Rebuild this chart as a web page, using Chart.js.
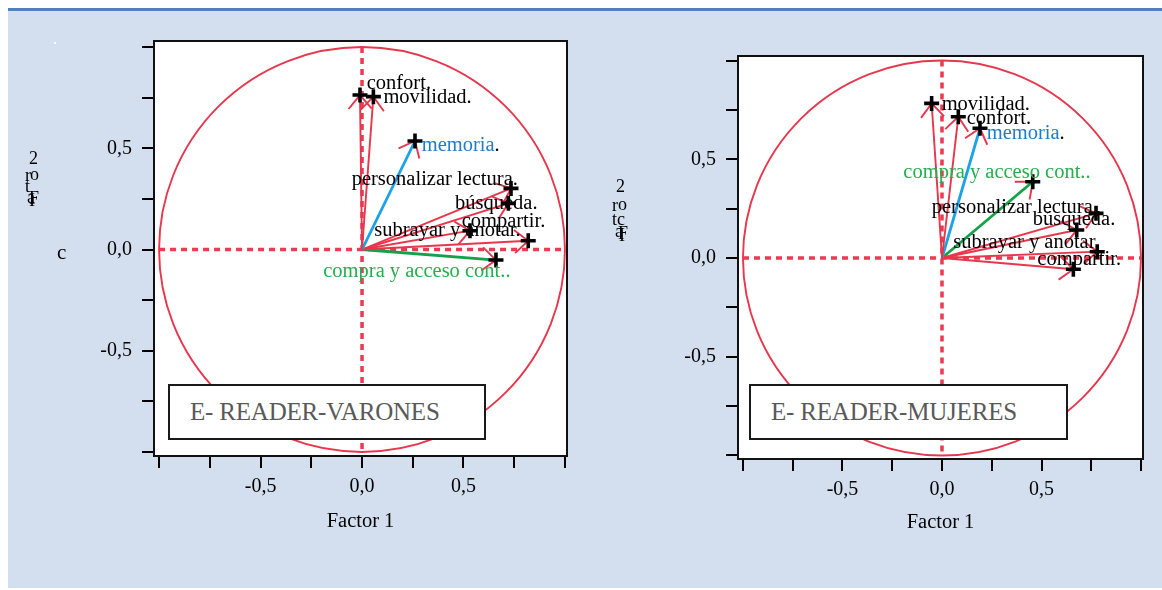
<!DOCTYPE html>
<html><head><meta charset="utf-8">
<script src="https://cdn.jsdelivr.net/npm/chart.js@4.4.0/dist/chart.umd.min.js"></script>
<style>
html,body{margin:0;padding:0;background:#fff;}
#page{position:relative;width:1162px;height:590px;overflow:hidden;background:#fff;font-family:"Liberation Serif",serif;}
#topline{position:absolute;left:8px;top:8px;width:1154px;height:3px;background:#4F81BD;}
#panel{position:absolute;left:8px;top:11px;width:1154px;height:577px;background:#D3DFEE;}
canvas{position:absolute;top:0;}
.frag{position:absolute;font-family:"Liberation Serif",serif;font-size:18px;line-height:18px;color:#000;white-space:pre;}
.box{position:absolute;top:384px;height:56px;background:#fff;border:2px solid #1a1a1a;box-sizing:border-box;color:#595959;font-family:"Liberation Serif",serif;font-size:25px;letter-spacing:-0.2px;line-height:52px;white-space:pre;}
#dot{position:absolute;left:54px;top:42px;width:2px;height:2px;background:#fff;}
</style></head>
<body>
<div id="page">
  <div id="topline"></div>
  <div id="panel"></div>
  <div id="dot"></div>
  <canvas id="cVar" width="580" height="590" style="left:0;width:580px;height:590px"></canvas>
  <canvas id="cMuj" width="582" height="590" style="left:580px;width:582px;height:590px"></canvas>
  <div class="box" id="boxVar" style="left:168px;width:318px;padding-left:20px"></div>
  <div class="box" id="boxMuj" style="left:749px;width:319px;padding-left:20px"></div>
  <!-- garbled vertical axis titles, as in the source -->
  <div class="frag" style="left:29px;top:149px">2</div>
  <div class="frag" style="left:25px;top:166px">r</div>
  <div class="frag" style="left:30px;top:165px">o</div>
  <div class="frag" style="left:25px;top:177px">t</div>
  <div class="frag" style="left:27px;top:188px">a</div>
  <div class="frag" style="left:29px;top:189px">F</div>
  <div class="frag" style="left:29px;top:191px">I</div>
  <div class="frag" style="left:57px;top:243px;font-size:21px">c</div>
  <div class="frag" style="left:616px;top:177px">2</div>
  <div class="frag" style="left:612px;top:196px">r</div>
  <div class="frag" style="left:618px;top:195px">o</div>
  <div class="frag" style="left:612px;top:210px">t</div>
  <div class="frag" style="left:617px;top:210px">c</div>
  <div class="frag" style="left:615px;top:222px">a</div>
  <div class="frag" style="left:618px;top:224px">F</div>
  <div class="frag" style="left:619px;top:226px">I</div>
</div>
<script>
// ---- data ----
const variables = ["confort.", "movilidad.", "memoria.", "personalizar lectura.", "búsqueda.", "compartir.", "subrayar y anotar.", "compra y acceso cont.."];
const varonesF1 = [-0.010, 0.056, 0.261, 0.734, 0.721, 0.819, 0.532, 0.660];
const varonesF2 = [0.763, 0.755, 0.536, 0.302, 0.228, 0.043, 0.093, -0.052];
const mujeresF1 = [0.082, -0.052, 0.191, 0.774, 0.677, 0.660, 0.780, 0.456];
const mujeresF2 = [0.715, 0.783, 0.657, 0.226, 0.142, -0.057, 0.032, 0.386];
const axisTicks = [-1, -0.75, -0.5, -0.25, 0, 0.25, 0.5, 0.75, 1];
const labeledTicks = [-0.5, 0, 0.5];
const xAxisTitle = "Factor 1";
const panelTitles = ["E- READER-VARONES", "E- READER-MUJERES"];

// ---- styles ----
const RED = "#E8364C", DASH = "#EC3A52", BLUE_LINE = "#1BA3E6", BLUE_TXT = "#1F7CC8", GREEN_LINE = "#13A24A", GREEN_TXT = "#22B04D";
const FONT = '"Liberation Serif", "Times New Roman", serif';
const labelOffsetsVar = [[6.7,-6],[10,6.6],[6.7,10],[-159.3,-3.3],[-53.3,6],[-66.6,-14],[-95.7,5.3],[-172.7,17.3]];
const labelOffsetsMuj = [[8.4,7.3],[10,6.7],[6.7,10.7],[-164.3,0],[-44,-5],[-36,-4.3],[-144,-3.4],[-129.4,-3.7]];

document.getElementById('boxVar').textContent = panelTitles[0];
document.getElementById('boxMuj').textContent = panelTitles[1];

const fmt = v => (Math.abs(v) < 1e-9 ? 0 : v).toFixed(1).replace('.', ',');
const lineColor = i => i === 2 ? BLUE_LINE : (i === 7 ? GREEN_LINE : RED);
const lineWidth = i => (i === 2 || i === 7) ? 2.8 : 1.9;

function buildChart(id, f1, f2, lim, pad, yWidth, xHeight, offsets) {
  const datasets = [{
    label: 'puntos', data: f1.map((v, i) => ({x: v, y: f2[i]})),
    pointStyle: 'cross', pointRadius: 7.5, pointHoverRadius: 7.5, pointBorderWidth: 3.6,
    borderColor: '#000', backgroundColor: '#000', showLine: false
  }];
  variables.forEach((name, i) => {
    datasets.push({label: name, data: [{x: 0, y: 0}, {x: f1[i], y: f2[i]}], showLine: true,
      borderColor: lineColor(i), borderWidth: lineWidth(i), pointRadius: 0, pointHoverRadius: 0, fill: false});
  });
  const deco = {
    id: 'deco',
    beforeDraw(chart) {
      const {ctx, chartArea: a} = chart;
      ctx.save(); ctx.fillStyle = '#fff'; ctx.fillRect(a.left, a.top, a.right - a.left, a.bottom - a.top); ctx.restore();
    },
    beforeDatasetsDraw(chart) {
      const {ctx, scales: {x, y}} = chart;
      const cx = x.getPixelForValue(0), cy = y.getPixelForValue(0);
      const rx = x.getPixelForValue(1) - cx, ry = cy - y.getPixelForValue(1);
      ctx.save();
      ctx.strokeStyle = RED; ctx.lineWidth = 1.9;
      ctx.beginPath(); ctx.ellipse(cx, cy, rx, ry, 0, 0, Math.PI * 2); ctx.stroke();
      ctx.strokeStyle = DASH; ctx.lineWidth = 3.5; ctx.setLineDash([6, 5]);
      ctx.beginPath(); ctx.moveTo(x.getPixelForValue(-1), cy); ctx.lineTo(x.getPixelForValue(1), cy); ctx.stroke();
      ctx.beginPath(); ctx.moveTo(cx, y.getPixelForValue(1)); ctx.lineTo(cx, y.getPixelForValue(-1)); ctx.stroke();
      ctx.setLineDash([]);
      // arrow heads
      ctx.strokeStyle = RED; ctx.lineWidth = 1.9;
      const L = 18, th = 40 * Math.PI / 180;
      f1.forEach((v, i) => {
        const tx = x.getPixelForValue(v), ty = y.getPixelForValue(f2[i]);
        const ang = Math.atan2(ty - cy, tx - cx) + Math.PI;
        ctx.beginPath();
        ctx.moveTo(tx + L * Math.cos(ang + th), ty + L * Math.sin(ang + th));
        ctx.lineTo(tx, ty);
        ctx.lineTo(tx + L * Math.cos(ang - th), ty + L * Math.sin(ang - th));
        ctx.stroke();
      });
      ctx.restore();
    },
    afterDatasetsDraw(chart) {
      const {ctx, scales: {x, y}} = chart;
      ctx.save();
      ctx.font = '20.5px ' + FONT; ctx.textBaseline = 'alphabetic'; ctx.textAlign = 'left';
      variables.forEach((name, i) => {
        const px = x.getPixelForValue(f1[i]) + offsets[i][0];
        const py = y.getPixelForValue(f2[i]) + offsets[i][1];
        if (i === 2) {
          const main = name.slice(0, -1);
          ctx.fillStyle = BLUE_TXT; ctx.fillText(main, px, py);
          ctx.fillStyle = '#000'; ctx.fillText('.', px + ctx.measureText(main).width, py);
        } else {
          ctx.fillStyle = i === 7 ? GREEN_TXT : '#000';
          ctx.fillText(name, px, py);
        }
      });
      ctx.restore();
    },
    afterDraw(chart) {
      const {ctx, chartArea: a} = chart;
      ctx.save(); ctx.strokeStyle = '#111'; ctx.lineWidth = 2;
      ctx.strokeRect(a.left, a.top, a.right - a.left, a.bottom - a.top); ctx.restore();
    }
  };
  const tickFont = {family: FONT, size: 20};
  return new Chart(document.getElementById(id), {
    type: 'scatter',
    data: {datasets},
    options: {
      responsive: false, animation: false, events: [],
      layout: {padding: pad},
      plugins: {legend: {display: false}, tooltip: {enabled: false}},
      scales: {
        x: {
          type: 'linear', position: 'bottom', min: lim.xmin, max: lim.xmax,
          afterBuildTicks: s => { s.ticks = axisTicks.map(v => ({value: v})); },
          afterFit: s => { s.height = xHeight; },
          ticks: {callback: v => labeledTicks.includes(v) ? fmt(v) : '', font: tickFont, color: '#000', padding: 7, maxRotation: 0, autoSkip: false},
          grid: {drawOnChartArea: false, drawTicks: true, tickLength: 12, color: '#000', lineWidth: 2},
          border: {display: true, color: '#111', width: 2},
          title: {display: true, text: xAxisTitle, font: {family: FONT, size: 20.5}, color: '#000', padding: 0}
        },
        y: {
          type: 'linear', position: 'left', min: lim.ymin, max: lim.ymax,
          afterBuildTicks: s => { s.ticks = axisTicks.map(v => ({value: v})); },
          afterFit: s => { s.width = yWidth; },
          ticks: {callback: v => labeledTicks.includes(v) ? fmt(v) : '', font: tickFont, color: '#000', padding: 10, autoSkip: false},
          grid: {drawOnChartArea: false, drawTicks: true, tickLength: 12, color: '#000', lineWidth: 2},
          border: {display: true, color: '#111', width: 2}
        }
      }
    },
    plugins: [deco]
  });
}

buildChart('cVar', varonesF1, varonesF2,
  {xmin: -1.025, xmax: 1.010, ymin: -1.020, ymax: 1.030},
  {left: 0, top: 41, right: 13, bottom: 56}, 154, 78, labelOffsetsVar);
buildChart('cMuj', mujeresF1, mujeresF2,
  {xmin: -1.025, xmax: 1.010, ymin: -1.018, ymax: 1.023},
  {left: 0, top: 56, right: 19, bottom: 55}, 158, 76, labelOffsetsMuj);
</script>
</body></html>
